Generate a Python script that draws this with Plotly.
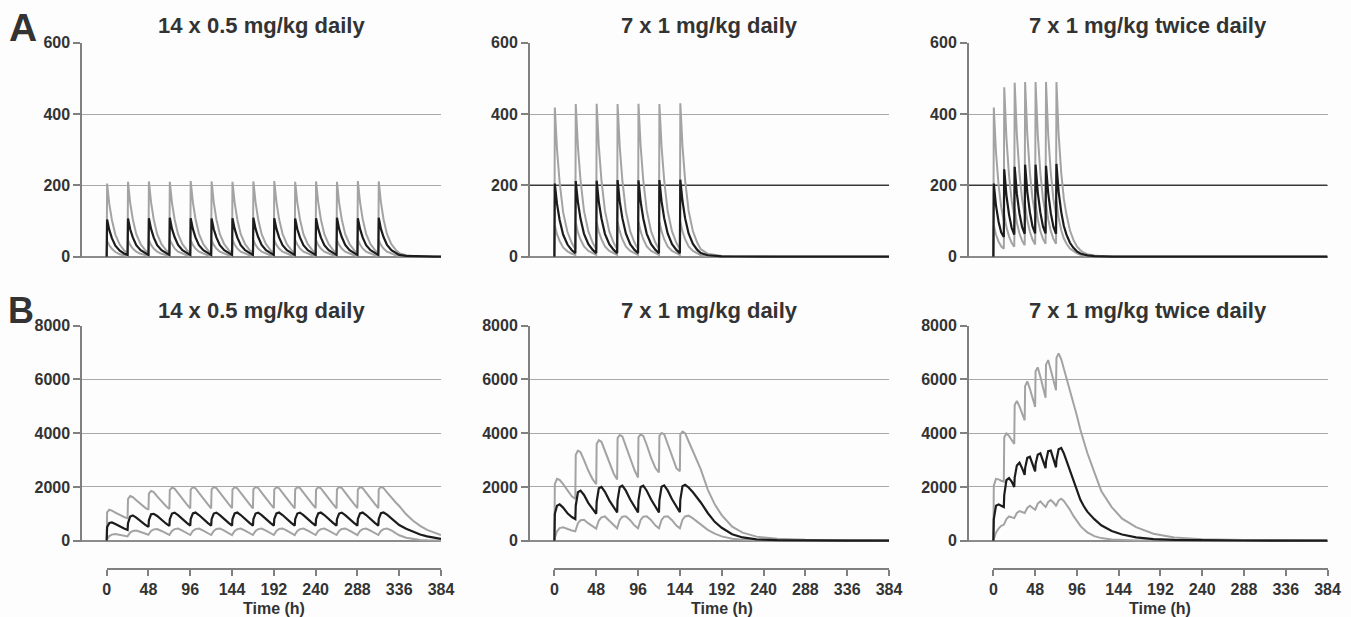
import plotly.graph_objects as go

W, H = 1351, 617
FONT = "Liberation Sans, Arial, Helvetica, sans-serif"
TEXT = "#333333"
AXIS = "#808080"
GRID = "#a8a8a8"
GRAY = "#a3a3a3"
BLACK = "#1c1c1c"

# ---- dosing schedules and sample times (h) ----
DAILY14_DOSES = [0, 24, 48, 72, 96, 120, 144, 168, 192, 216, 240, 264, 288, 312]
DAILY7_DOSES = [0, 24, 48, 72, 96, 120, 144]
BID7_DOSES = [0, 12, 24, 36, 48, 60, 72]
DAILY_OFFSETS = [0, 0.5, 3, 6, 10, 15, 20]
BID_OFFSETS = [0, 0.5, 3, 6, 9]
DAILY14_TAIL = [336, 344, 352, 360, 368, 376, 384]
DAILY7_TAIL = [168, 176, 184, 192, 204, 216, 232, 256, 288, 336, 384]
BID7_TAIL = [84, 88, 92, 96, 100, 104, 108, 116, 124, 136, 148, 164, 184, 208,
             240, 288, 336, 384]

TIME_TICKS = [0, 48, 96, 144, 192, 240, 288, 336, 384]
A_TICKS = [0, 200, 400, 600]
B_TICKS = [0, 2000, 4000, 6000, 8000]
A_THRESHOLD = 200

TITLES = ["14 x 0.5 mg/kg daily", "7 x 1 mg/kg daily", "7 x 1 mg/kg twice daily"]

# ---- row A: one row per dose interval, last row = washout ----
A1_UPPER = [
    [0, 205, 148, 103, 62, 34, 18],
    [10, 210, 151, 105, 63, 35, 19],
    [10, 211, 152, 105, 63, 35, 19],
    [10, 210, 151, 105, 63, 35, 19],
    [10, 212, 153, 106, 64, 35, 19],
    [10, 211, 152, 105, 63, 35, 19],
    [10, 210, 151, 105, 63, 35, 19],
    [10, 211, 152, 105, 63, 35, 19],
    [10, 212, 153, 106, 64, 35, 19],
    [10, 210, 151, 105, 63, 35, 19],
    [10, 211, 152, 105, 63, 35, 19],
    [10, 210, 151, 105, 63, 35, 19],
    [10, 212, 153, 106, 64, 35, 19],
    [10, 211, 152, 105, 63, 35, 19],
    [10, 4, 2, 1, 0.5, 0.2, 0],
]
A1_MEDIAN = [
    [0, 104, 75, 52, 31, 17, 9],
    [5, 107, 77, 54, 32, 18, 10],
    [5, 108, 78, 54, 32, 18, 10],
    [5, 109, 78, 55, 33, 18, 10],
    [5, 108, 78, 54, 32, 18, 10],
    [5, 107, 77, 54, 32, 18, 10],
    [5, 108, 78, 54, 32, 18, 10],
    [5, 109, 78, 55, 33, 18, 10],
    [5, 108, 78, 54, 32, 18, 10],
    [5, 107, 77, 54, 32, 18, 10],
    [5, 108, 78, 54, 32, 18, 10],
    [5, 109, 78, 55, 33, 18, 10],
    [5, 108, 78, 54, 32, 18, 10],
    [5, 109, 78, 55, 33, 18, 10],
    [5, 2, 1, 0.5, 0.2, 0, 0],
]
A1_LOWER = [
    [0, 44, 32, 22, 13, 7, 4],
    [2, 46, 33, 23, 14, 8, 4],
    [2, 46, 33, 23, 14, 8, 4],
    [2, 47, 34, 23, 14, 8, 4],
    [2, 46, 33, 23, 14, 8, 4],
    [2, 46, 33, 23, 14, 8, 4],
    [2, 47, 34, 23, 14, 8, 4],
    [2, 46, 33, 23, 14, 8, 4],
    [2, 46, 33, 23, 14, 8, 4],
    [2, 47, 34, 23, 14, 8, 4],
    [2, 46, 33, 23, 14, 8, 4],
    [2, 46, 33, 23, 14, 8, 4],
    [2, 47, 34, 23, 14, 8, 4],
    [2, 46, 33, 23, 14, 8, 4],
    [2, 1, 0.4, 0.2, 0, 0, 0],
]

A2_UPPER = [
    [0, 418, 301, 209, 125, 69, 38],
    [21, 428, 308, 214, 128, 71, 39],
    [21, 429, 309, 214, 129, 71, 39],
    [21, 428, 308, 214, 128, 71, 39],
    [21, 429, 309, 214, 129, 71, 39],
    [21, 428, 308, 214, 128, 71, 39],
    [21, 430, 310, 215, 129, 71, 39],
    [21, 8, 4, 2, 1, 0.5, 0, 0, 0, 0, 0],
]
A2_MEDIAN = [
    [0, 205, 148, 103, 62, 34, 18],
    [10, 212, 153, 106, 64, 35, 19],
    [10, 213, 153, 107, 64, 35, 19],
    [10, 215, 155, 108, 65, 35, 19],
    [10, 214, 154, 107, 64, 35, 19],
    [10, 215, 155, 108, 65, 35, 19],
    [10, 216, 156, 108, 65, 36, 19],
    [10, 4, 2, 1, 0.5, 0, 0, 0, 0, 0, 0],
]
A2_LOWER = [
    [0, 88, 63, 44, 26, 15, 8],
    [5, 95, 68, 48, 29, 16, 9],
    [5, 97, 70, 49, 29, 16, 9],
    [5, 98, 71, 49, 29, 16, 9],
    [5, 98, 71, 49, 29, 16, 9],
    [5, 98, 71, 49, 29, 16, 9],
    [5, 98, 71, 49, 29, 16, 9],
    [4, 2, 1, 0.5, 0, 0, 0, 0, 0, 0, 0],
]

A3_UPPER = [
    [0, 418, 293, 201, 138],
    [100, 475, 333, 228, 157],
    [114, 488, 342, 234, 161],
    [117, 490, 343, 235, 162],
    [118, 490, 343, 235, 162],
    [118, 490, 343, 235, 162],
    [118, 490, 343, 235, 162],
    [118, 74, 47, 29, 18, 11, 7, 3, 1, 0.3, 0, 0, 0, 0, 0, 0, 0, 0],
]
A3_MEDIAN = [
    [0, 205, 144, 98, 68],
    [55, 245, 172, 118, 81],
    [62, 252, 176, 121, 83],
    [64, 258, 181, 124, 85],
    [65, 258, 181, 124, 85],
    [65, 255, 179, 122, 84],
    [64, 260, 182, 125, 86],
    [62, 39, 25, 15, 9, 6, 3.5, 1.5, 0.5, 0, 0, 0, 0, 0, 0, 0, 0, 0],
]
A3_LOWER = [
    [0, 88, 62, 42, 29],
    [22, 118, 83, 57, 39],
    [28, 135, 95, 65, 45],
    [32, 145, 102, 70, 48],
    [34, 150, 105, 72, 50],
    [36, 150, 105, 72, 50],
    [36, 155, 109, 74, 51],
    [37, 23, 15, 9, 5.5, 3.5, 2, 1, 0.3, 0, 0, 0, 0, 0, 0, 0, 0, 0],
]

# ---- row B ----
B1_UPPER = [
    [0, 1050, 1150, 1120, 1040, 950, 880],
    [830, 1550, 1660, 1620, 1500, 1350, 1230],
    [1150, 1750, 1850, 1810, 1650, 1450, 1290],
    [1180, 1880, 1975, 1940, 1770, 1540, 1350],
    [1200, 1900, 1990, 1950, 1780, 1550, 1360],
    [1200, 1910, 1995, 1955, 1785, 1555, 1365],
    [1210, 1900, 1990, 1950, 1780, 1550, 1360],
    [1200, 1910, 2000, 1960, 1790, 1560, 1365],
    [1210, 1900, 1990, 1950, 1780, 1550, 1360],
    [1200, 1905, 1995, 1955, 1785, 1555, 1365],
    [1210, 1900, 1990, 1950, 1780, 1550, 1360],
    [1200, 1910, 2000, 1960, 1790, 1560, 1365],
    [1210, 1900, 1995, 1955, 1785, 1555, 1365],
    [1210, 1910, 2000, 1960, 1800, 1590, 1420],
    [1290, 980, 740, 550, 400, 290, 210],
]
B1_MEDIAN = [
    [0, 500, 660, 680, 620, 520, 450],
    [400, 650, 900, 940, 860, 720, 600],
    [510, 760, 980, 1000, 920, 770, 640],
    [550, 800, 1010, 1040, 950, 790, 660],
    [560, 805, 1015, 1045, 955, 795, 665],
    [560, 800, 1010, 1040, 950, 790, 660],
    [560, 805, 1015, 1045, 955, 795, 665],
    [560, 800, 1010, 1040, 950, 790, 660],
    [560, 805, 1015, 1045, 955, 795, 665],
    [560, 800, 1010, 1040, 950, 790, 660],
    [560, 805, 1015, 1045, 955, 795, 665],
    [560, 800, 1010, 1040, 950, 790, 660],
    [560, 805, 1015, 1045, 955, 795, 665],
    [560, 810, 1020, 1050, 970, 820, 690],
    [580, 440, 320, 230, 160, 105, 65],
]
B1_LOWER = [
    [0, 60, 170, 225, 245, 215, 180],
    [160, 190, 300, 360, 375, 320, 260],
    [220, 250, 360, 420, 430, 360, 280],
    [210, 240, 360, 430, 450, 370, 270],
    [210, 240, 360, 430, 450, 370, 270],
    [210, 240, 365, 435, 455, 375, 270],
    [210, 240, 360, 430, 450, 370, 270],
    [210, 240, 360, 430, 450, 370, 270],
    [210, 240, 365, 435, 455, 375, 270],
    [210, 240, 360, 430, 450, 370, 270],
    [210, 240, 360, 430, 450, 370, 270],
    [210, 240, 365, 435, 455, 375, 270],
    [210, 240, 360, 430, 450, 370, 270],
    [210, 240, 360, 430, 450, 380, 290],
    [200, 110, 55, 25, 12, 5, 2],
]

B2_UPPER = [
    [0, 2100, 2300, 2260, 2100, 1850, 1650],
    [1550, 3200, 3350, 3290, 3000, 2600, 2280],
    [2100, 3600, 3740, 3680, 3350, 2900, 2500],
    [2280, 3820, 3930, 3880, 3520, 3030, 2620],
    [2350, 3850, 3950, 3900, 3560, 3080, 2700],
    [2540, 3900, 4010, 3960, 3600, 3100, 2700],
    [2580, 3950, 4060, 4000, 3700, 3300, 2950],
    [2650, 1900, 1350, 950, 520, 300, 150, 70, 35, 20, 15],
]
B2_MEDIAN = [
    [0, 1000, 1300, 1350, 1230, 1020, 880],
    [800, 1300, 1800, 1860, 1700, 1400, 1150],
    [1000, 1450, 1950, 2000, 1820, 1500, 1220],
    [1050, 1500, 2000, 2050, 1860, 1530, 1240],
    [1050, 1500, 2000, 2050, 1860, 1530, 1240],
    [1050, 1500, 2010, 2060, 1870, 1540, 1250],
    [1060, 1520, 2030, 2080, 1980, 1800, 1600],
    [1420, 1030, 700, 480, 240, 120, 50, 18, 6, 2, 1],
]
B2_LOWER = [
    [0, 100, 350, 470, 500, 430, 380],
    [350, 420, 650, 760, 780, 640, 520],
    [450, 510, 750, 870, 900, 740, 580],
    [460, 520, 770, 890, 910, 760, 560],
    [460, 520, 770, 890, 910, 760, 560],
    [460, 520, 770, 890, 910, 760, 560],
    [460, 530, 780, 900, 930, 830, 700],
    [580, 400, 260, 160, 70, 30, 10, 3, 1, 0, 0],
]

B3_UPPER = [
    [0, 2050, 2300, 2280, 2230],
    [2200, 3850, 3990, 3900, 3750],
    [3600, 5050, 5200, 5000, 4750],
    [4480, 5750, 5930, 5650, 5300],
    [4980, 6300, 6450, 6100, 5700],
    [5320, 6550, 6720, 6350, 5950],
    [5600, 6800, 6970, 6750, 6400],
    [6100, 5650, 5180, 4650, 4130, 3680, 3260, 2550, 1850, 1250, 820, 500, 260,
     120, 50, 25, 15, 10],
]
B3_MEDIAN = [
    [0, 800, 1300, 1350, 1300],
    [1250, 1700, 2250, 2330, 2200],
    [2000, 2350, 2800, 2900, 2700],
    [2450, 2700, 3080, 3120, 2880],
    [2580, 2850, 3200, 3250, 3000],
    [2700, 2950, 3330, 3350, 3080],
    [2730, 3000, 3400, 3450, 3250],
    [2980, 2600, 2200, 1820, 1520, 1280, 1080, 800, 570, 360, 230, 120, 60, 30,
     12, 5, 2, 1],
]
B3_LOWER = [
    [0, 50, 300, 450, 550],
    [590, 620, 800, 900, 880],
    [840, 870, 1030, 1100, 1070],
    [1030, 1060, 1220, 1300, 1240],
    [1150, 1180, 1380, 1460, 1370],
    [1250, 1270, 1440, 1510, 1420],
    [1300, 1320, 1500, 1560, 1480],
    [1350, 1150, 920, 720, 550, 420, 310, 170, 95, 40, 18, 6, 2, 0, 0, 0, 0, 0],
]


def series(doses, offsets, tail_times, rows):
    """Flatten per-dose rows (plus washout row) onto their sample times."""
    xs, ys = [], []
    for dose, row in zip(doses, rows[:-1]):
        assert len(row) == len(offsets)
        xs += [dose + o for o in offsets]
        ys += row
    assert len(rows[-1]) == len(tail_times)
    xs += tail_times
    ys += rows[-1]
    return xs, ys


REGIMENS = [
    (DAILY14_DOSES, DAILY_OFFSETS, DAILY14_TAIL),
    (DAILY7_DOSES, DAILY_OFFSETS, DAILY7_TAIL),
    (BID7_DOSES, BID_OFFSETS, BID7_TAIL),
]
PANELS = [
    (A1_LOWER, A1_UPPER, A1_MEDIAN),
    (A2_LOWER, A2_UPPER, A2_MEDIAN),
    (A3_LOWER, A3_UPPER, A3_MEDIAN),
    (B1_LOWER, B1_UPPER, B1_MEDIAN),
    (B2_LOWER, B2_UPPER, B2_MEDIAN),
    (B3_LOWER, B3_UPPER, B3_MEDIAN),
]

# ---- geometry (pixels) ----
COL_PX = [(82.3, 441.0), (530.0, 889.0), (969.0, 1327.5)]
ROW_PX = [(42.7, 258.1), (325.7, 542.0)]          # top, bottom of plot areas
Y_RANGES = [[-4, 600], [-50, 8000]]
X_RANGE = [-28, 384]
XAXIS_LINE_PX = 566.7


def fx(p):
    return p / W


def fy(p):
    return 1 - p / H


def time_to_paper(col, t):
    """Paper x-fraction of time t inside column col."""
    left, right = COL_PX[col]
    span = X_RANGE[1] - X_RANGE[0]
    return fx(left + (t - X_RANGE[0]) / span * (right - left))


fig = go.Figure()
layout = {}
annotations = []
tickfont = dict(family=FONT, size=16, color=TEXT, weight="bold")

for i, curves in enumerate(PANELS):
    row, col = divmod(i, 3)
    n = i + 1
    xname, yname = ("x", "y") if n == 1 else (f"x{n}", f"y{n}")
    doses, offsets, tail = REGIMENS[col]
    xdom = [fx(COL_PX[col][0]), fx(COL_PX[col][1])]
    ydom = [fy(ROW_PX[row][1]), fy(ROW_PX[row][0])]

    # dark reference line at 200 in the 1 mg/kg plasma panels (drawn under curves)
    if row == 0 and col > 0:
        fig.add_trace(go.Scatter(
            x=X_RANGE, y=[A_THRESHOLD, A_THRESHOLD], mode="lines",
            xaxis=xname, yaxis=yname, line=dict(color="#3a3a3a", width=1.5),
            hoverinfo="skip", showlegend=False))

    for rows, color, width in zip(curves, [GRAY, GRAY, BLACK], [2.0, 2.0, 2.2]):
        xs, ys = series(doses, offsets, tail, rows)
        fig.add_trace(go.Scatter(
            x=xs, y=ys, mode="lines", xaxis=xname, yaxis=yname,
            line=dict(color=color, width=width), hoverinfo="skip",
            showlegend=False))

    xkey = "xaxis" if n == 1 else f"xaxis{n}"
    ykey = "yaxis" if n == 1 else f"yaxis{n}"

    layout[xkey] = dict(domain=xdom, range=X_RANGE, visible=False,
                        anchor=yname, fixedrange=True, automargin=False)
    layout[ykey] = dict(
        domain=ydom, range=Y_RANGES[row],
        tickvals=A_TICKS if row == 0 else B_TICKS,
        showgrid=True, gridcolor=GRID, gridwidth=1.4,
        zeroline=True, zerolinecolor="#8c8c8c", zerolinewidth=1.8,
        showline=True, linecolor=AXIS, linewidth=2, ticks="outside",
        ticklen=7, tickwidth=2, tickcolor=AXIS, tickfont=tickfont,
        anchor=xname, fixedrange=True, automargin=False)

    if row == 1:
        # offset time axis: a thin strip subplot below the panel whose x axis
        # spans only 0..384 h
        tn = n + 3
        tx, ty = f"x{tn}", f"y{tn}"
        layout[f"xaxis{tn}"] = dict(
            domain=[time_to_paper(col, TIME_TICKS[0]),
                    time_to_paper(col, TIME_TICKS[-1])],
            range=[TIME_TICKS[0], TIME_TICKS[-1]], anchor=ty, side="bottom",
            tickvals=TIME_TICKS, ticks="outside", ticklen=6, tickwidth=2,
            tickcolor=AXIS, showline=True, linecolor=AXIS, linewidth=2,
            showgrid=False, zeroline=False, tickfont=tickfont,
            fixedrange=True, automargin=False)
        layout[f"yaxis{tn}"] = dict(
            domain=[fy(XAXIS_LINE_PX + 1), fy(XAXIS_LINE_PX - 1)],
            range=[0, 1], anchor=tx, visible=False, fixedrange=True,
            automargin=False)
        fig.add_trace(go.Scatter(x=[], y=[], xaxis=tx, yaxis=ty, mode="lines",
                                 hoverinfo="skip", showlegend=False))
        annotations.append(dict(
            text="<b>Time (h)</b>", xref="paper", yref="paper",
            x=time_to_paper(col, (TIME_TICKS[0] + TIME_TICKS[-1]) / 2),
            y=fy(608), xanchor="center", yanchor="middle", showarrow=False,
            font=dict(family=FONT, size=16, color=TEXT)))

    # panel title
    annotations.append(dict(
        text=f"<b>{TITLES[col]}</b>", xref="paper", yref="paper",
        x=(xdom[0] + xdom[1]) / 2, y=fy(25 if row == 0 else 310),
        xanchor="center", yanchor="middle", showarrow=False,
        font=dict(family=FONT, size=22, color=TEXT)))

# panel letters
annotations.append(dict(text="<b>A</b>", xref="paper", yref="paper",
                        x=fx(22.5), y=fy(28), xanchor="center", yanchor="middle",
                        showarrow=False, font=dict(family=FONT, size=39, color=TEXT)))
annotations.append(dict(text="<b>B</b>", xref="paper", yref="paper",
                        x=fx(21), y=fy(310), xanchor="center", yanchor="middle",
                        showarrow=False, font=dict(family=FONT, size=36, color=TEXT)))

fig.update_layout(
    width=W, height=H, autosize=False,
    margin=dict(l=0, r=0, t=0, b=0, pad=0, autoexpand=False),
    paper_bgcolor="#fdfdfd", plot_bgcolor="#fdfdfd",
    font=dict(family=FONT, color=TEXT), showlegend=False,
    annotations=annotations, **layout)

fig.write_html("out.html", config={"displayModeBar": False})
